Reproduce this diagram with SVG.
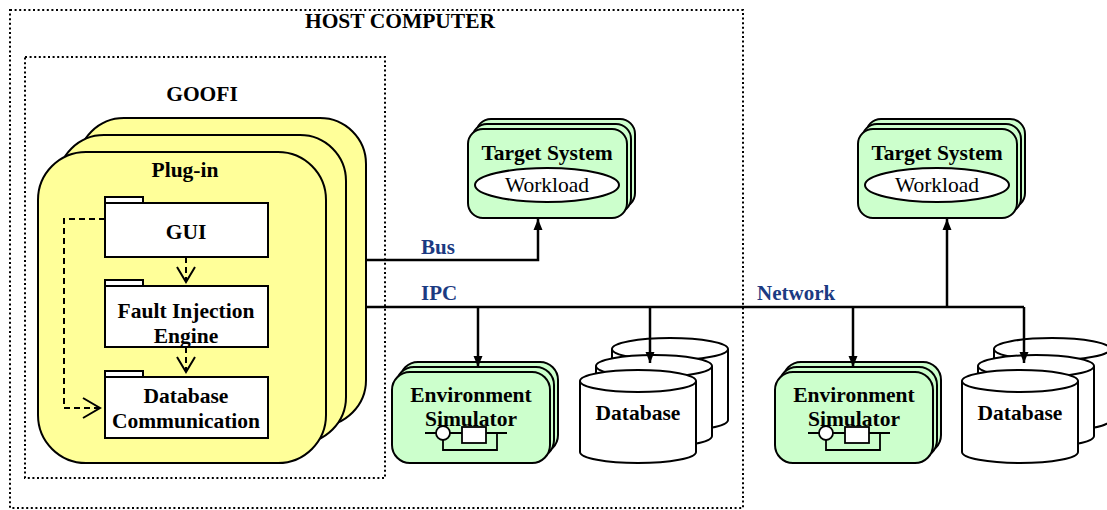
<svg xmlns="http://www.w3.org/2000/svg" width="1107" height="510" viewBox="0 0 1107 510">
<defs>
<style>
.dot{fill:none;stroke:#000;stroke-width:2;stroke-dasharray:2 2.6}
.yel{fill:#FFFF99;stroke:#000;stroke-width:2}
.grn{fill:#CCFFCC;stroke:#000;stroke-width:2}
.wht{fill:#fff;stroke:#000;stroke-width:2}
.b{font-family:"Liberation Serif","Times New Roman",serif;font-weight:bold;font-size:21.5px;fill:#000;text-anchor:middle}
.r{font-family:"Liberation Serif","Times New Roman",serif;font-size:21.5px;fill:#000;text-anchor:middle}
.lbl{font-family:"Liberation Serif","Times New Roman",serif;font-weight:bold;font-size:21px;fill:#1B3A82}
.con{fill:none;stroke:#000;stroke-width:2.5}
.dash{fill:none;stroke:#000;stroke-width:2;stroke-dasharray:6 4}
.open{fill:none;stroke:#000;stroke-width:2}
.sym{fill:none;stroke:#000;stroke-width:1.8}
</style>
<marker id="arr" markerUnits="userSpaceOnUse" markerWidth="12" markerHeight="12" viewBox="0 0 12 12" refX="11" refY="6" orient="auto">
<path d="M0,1.5 L11,6 L0,10.5 Z" fill="#000"/>
</marker>
</defs>

<g id="host">
<rect class="dot" x="10" y="10" width="733" height="498"/>
<text class="b" x="400" y="28">HOST COMPUTER</text>
</g>

<g id="goofi">
<rect class="dot" x="25" y="57" width="360" height="421"/>
<text class="b" x="202" y="101">GOOFI</text>
</g>

<g id="plugin">
<rect class="yel" x="78" y="118" width="288" height="308" rx="46" ry="46"/>
<rect class="yel" x="58" y="135" width="288" height="308" rx="46" ry="46"/>
<rect class="yel" x="38" y="152" width="288" height="311" rx="48" ry="48"/>
<text class="b" x="185" y="177">Plug-in</text>
</g>

<g id="gui">
<rect class="wht" x="105" y="197" width="38" height="6"/>
<rect class="wht" x="105" y="203" width="163" height="54"/>
<text class="b" x="186" y="239">GUI</text>
</g>

<g id="fie">
<rect class="wht" x="105" y="280" width="38" height="6"/>
<rect class="wht" x="105" y="286" width="163" height="61"/>
<text class="b" x="186" y="318">Fault Injection</text>
<text class="b" x="186" y="343">Engine</text>
</g>

<g id="dbcomm">
<rect class="wht" x="105" y="371" width="38" height="6"/>
<rect class="wht" x="105" y="377" width="163" height="61"/>
<text class="b" x="186" y="403">Database</text>
<text class="b" x="186" y="428">Communication</text>
</g>

<g id="target1">
<rect class="grn" x="476" y="119" width="159" height="89" rx="15" ry="15"/>
<rect class="grn" x="472" y="124" width="159" height="89" rx="15" ry="15"/>
<rect class="grn" x="468" y="129" width="159" height="89" rx="15" ry="15"/>
<text class="b" x="547" y="160">Target System</text>
<ellipse class="wht" cx="547" cy="185" rx="72" ry="17"/>
<text class="r" x="547" y="192">Workload</text>
</g>

<g id="target2">
<rect class="grn" x="866" y="119" width="159" height="89" rx="15" ry="15"/>
<rect class="grn" x="862" y="124" width="159" height="89" rx="15" ry="15"/>
<rect class="grn" x="858" y="129" width="159" height="89" rx="15" ry="15"/>
<text class="b" x="937" y="160">Target System</text>
<ellipse class="wht" cx="937" cy="185" rx="72" ry="17"/>
<text class="r" x="937" y="192">Workload</text>
</g>

<g id="envsim1">
<rect class="grn" x="400" y="362" width="158" height="91" rx="18" ry="18"/>
<rect class="grn" x="396" y="367" width="158" height="91" rx="18" ry="18"/>
<rect class="grn" x="392" y="372" width="158" height="91" rx="18" ry="18"/>
<text class="b" x="471" y="402">Environment</text>
<text class="b" x="471" y="426">Simulator</text>
<path class="sym" d="M425,433 H436 M450,433 H462 M486,433 H507 M497,433 V450 H443 V440"/>
<circle cx="443" cy="433" r="7" fill="#fff" stroke="#000" stroke-width="1.8"/>
<rect x="462" y="427" width="24" height="16" fill="#fff" stroke="#000" stroke-width="1.8"/>
</g>

<g id="envsim2">
<rect class="grn" x="783" y="362" width="158" height="91" rx="18" ry="18"/>
<rect class="grn" x="779" y="367" width="158" height="91" rx="18" ry="18"/>
<rect class="grn" x="775" y="372" width="158" height="91" rx="18" ry="18"/>
<text class="b" x="854" y="402">Environment</text>
<text class="b" x="854" y="426">Simulator</text>
<path class="sym" d="M808,433 H819 M833,433 H845 M869,433 H890 M880,433 V450 H826 V440"/>
<circle cx="826" cy="433" r="7" fill="#fff" stroke="#000" stroke-width="1.8"/>
<rect x="845" y="427" width="24" height="16" fill="#fff" stroke="#000" stroke-width="1.8"/>
</g>

<g id="database1">
<path class="wht" d="M612,349 V420 A58,11 0 0 0 728,420 V349"/>
<ellipse class="wht" cx="670" cy="349" rx="58" ry="11"/>
<path class="wht" d="M596,366 V436 A58,11 0 0 0 712,436 V366"/>
<ellipse class="wht" cx="654" cy="366" rx="58" ry="11"/>
<path class="wht" d="M580,381 V452 A58,11 0 0 0 696,452 V381"/>
<ellipse class="wht" cx="638" cy="381" rx="58" ry="11"/>
<text class="b" x="638" y="420">Database</text>
</g>

<g id="database2">
<path class="wht" d="M994,349 V420 A58,11 0 0 0 1110,420 V349"/>
<ellipse class="wht" cx="1052" cy="349" rx="58" ry="11"/>
<path class="wht" d="M978,366 V436 A58,11 0 0 0 1094,436 V366"/>
<ellipse class="wht" cx="1036" cy="366" rx="58" ry="11"/>
<path class="wht" d="M962,381 V452 A58,11 0 0 0 1078,452 V381"/>
<ellipse class="wht" cx="1020" cy="381" rx="58" ry="11"/>
<text class="b" x="1020" y="420">Database</text>
</g>

<g id="connectors">
<path class="dash" d="M186,257 V281"/>
<path class="open" d="M177,267 L186,282 L195,267"/>
<path class="dash" d="M186,347 V371"/>
<path class="open" d="M177,357 L186,372 L195,357"/>
<path class="dash" d="M105,219 H64 V408 H99"/>
<path class="open" d="M83,398 L100,408 L83,418"/>

<path class="con" d="M366,260 H538 V219" marker-end="url(#arr)"/>
<path class="con" d="M366,307 H1024"/>
<path class="con" d="M478,307 V367" marker-end="url(#arr)"/>
<path class="con" d="M650,307 V363" marker-end="url(#arr)"/>
<path class="con" d="M853,307 V367" marker-end="url(#arr)"/>
<path class="con" d="M1024,307 V363" marker-end="url(#arr)"/>
<path class="con" d="M947,307 V219" marker-end="url(#arr)"/>

<text class="lbl" x="421" y="254">Bus</text>
<text class="lbl" x="421" y="300">IPC</text>
<text class="lbl" x="757" y="300">Network</text>
</g>
</svg>
